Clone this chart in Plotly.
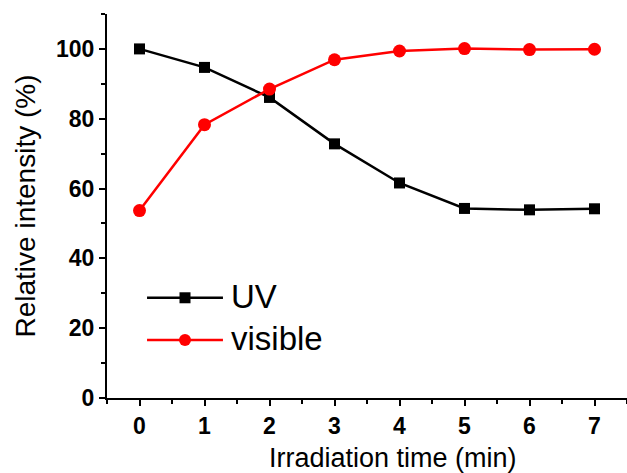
import plotly.graph_objects as go

time_min = [0, 1, 2, 3, 4, 5, 6, 7]
uv = [100, 94.7, 86.1, 72.8, 61.6, 54.3, 53.9, 54.2]
visible = [53.7, 78.3, 88.5, 96.9, 99.4, 100.1, 99.8, 99.9]
series_names = ["UV", "visible"]
series_colors = ["black", "red"]

font = "Arial, Liberation Sans, sans-serif"

fig = go.Figure()
fig.add_trace(go.Scatter(x=time_min, y=uv, mode="lines+markers", name=series_names[0],
                         line=dict(color=series_colors[0], width=2.5),
                         marker=dict(symbol="square", size=11, color=series_colors[0])))
fig.add_trace(go.Scatter(x=time_min, y=visible, mode="lines+markers", name=series_names[1],
                         line=dict(color=series_colors[1], width=2.5),
                         marker=dict(symbol="circle", size=13, color=series_colors[1])))

axis_common = dict(showline=True, linecolor="black", linewidth=2, ticks="outside",
                   ticklen=6, tickwidth=2, tickcolor="black", showgrid=False, zeroline=False,
                   mirror=False)

fig.update_xaxes(range=[-0.5, 7.5], dtick=1, tick0=0,
                 tickfont=dict(family=font, size=23, color="black", weight="bold"),
                 minor=dict(dtick=0.5, tick0=0, ticklen=4, tickwidth=1.5, tickcolor="black", ticks="outside"),
                 **axis_common)
fig.update_yaxes(range=[0, 110], dtick=20, tick0=0,
                 tickfont=dict(family=font, size=23, color="black", weight="bold"),
                 title=dict(text="Relative intensity (%)", font=dict(family=font, size=28, color="black"), standoff=12),
                 minor=dict(dtick=10, tick0=0, ticklen=4, tickwidth=1.5, tickcolor="black", ticks="outside"),
                 **axis_common)

# custom legend (paper coordinates)
leg_y = [0.261, 0.151]
shapes = []
annotations = []
for i, (nm, col) in enumerate(zip(series_names, series_colors)):
    yv = leg_y[i]
    shapes.append(dict(type="line", xref="paper", yref="paper", x0=0.077, x1=0.223, y0=yv, y1=yv,
                       line=dict(color=col, width=2.5)))
    shapes.append(dict(type="rect" if i == 0 else "circle", xref="paper", yref="paper",
                       xsizemode="pixel", ysizemode="pixel", xanchor=0.150, yanchor=yv,
                       x0=-6 if i else -5.5, x1=6 if i else 5.5, y0=-6 if i else -5.5, y1=6 if i else 5.5,
                       fillcolor=col, line=dict(width=0)))
    annotations.append(dict(text=nm, xref="paper", yref="paper", x=0.235, y=yv + 0.004,
                            xanchor="left", yanchor="middle", showarrow=False,
                            font=dict(family=font, size=33, color="black")))

# x-axis title (placed as in the reference, slightly right of centre)
annotations.append(dict(text="Irradiation time (min)", xref="paper", yref="paper", x=0.55, y=-0.155,
                        xanchor="center", yanchor="middle", showarrow=False,
                        font=dict(family=font, size=27, color="black")))

fig.update_layout(
    width=627, height=473,
    margin=dict(l=107, r=0, t=14, b=75),
    plot_bgcolor="white", paper_bgcolor="white",
    showlegend=False,
    shapes=shapes, annotations=annotations,
)

fig.write_html("out.html", config={"displayModeBar": False},
               post_script="document.body.style.margin='0';")
